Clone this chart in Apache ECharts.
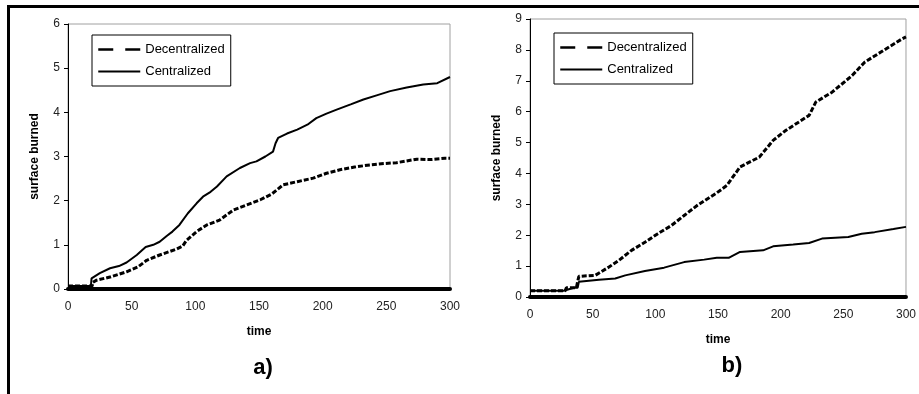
<!DOCTYPE html>
<html>
<head>
<meta charset="utf-8">
<script src="https://cdn.jsdelivr.net/npm/echarts@6/dist/echarts.min.js"></script>
<style>
  html, body { margin: 0; padding: 0; background: #fff; }
  #chart { width: 919px; height: 394px; }
</style>
</head>
<body>
<div id="chart"></div>
<script>
  // -------- data --------
  const X_TICKS = [0, 50, 100, 150, 200, 250, 300];

  // panel a)
  const aCentT = [0, 18, 18.5, 25, 33, 40, 46, 54, 61, 67, 72, 77.5, 82, 87.5, 94, 101, 106, 112, 117, 124.6, 135, 143, 148, 155, 161, 163, 165, 172, 180, 188, 195, 203, 211, 222, 232, 243, 253, 266, 279, 290, 300];
  const aCentV = [0.07, 0.07, 0.24, 0.36, 0.47, 0.52, 0.6, 0.77, 0.95, 1.0, 1.07, 1.2, 1.3, 1.45, 1.71, 1.94, 2.09, 2.2, 2.32, 2.55, 2.74, 2.85, 2.89, 3.0, 3.11, 3.3, 3.42, 3.52, 3.61, 3.72, 3.87, 3.97, 4.06, 4.18, 4.29, 4.39, 4.48, 4.56, 4.63, 4.66, 4.8];
  const aDecT = [0, 19, 19.5, 22.5, 33, 46, 55, 61.8, 72, 85, 90, 93, 101, 109, 119, 130, 140, 151, 160, 169, 180, 192.5, 203, 213.6, 225, 237, 248, 258, 274, 285, 296, 300];
  const aDecV = [0.07, 0.07, 0.15, 0.2, 0.27, 0.39, 0.5, 0.65, 0.77, 0.9, 0.97, 1.1, 1.3, 1.45, 1.56, 1.79, 1.9, 2.02, 2.15, 2.36, 2.43, 2.51, 2.62, 2.7, 2.76, 2.81, 2.84, 2.86, 2.94, 2.93, 2.96, 2.96];

  // panel b)
  const bCentT = [0, 27, 28, 35, 38, 39, 55, 68, 76, 91.7, 107, 123, 139, 149, 158.5, 167.6, 186, 194, 210, 222.7, 233, 254, 264.7, 275, 290, 300];
  const bCentV = [0.2, 0.2, 0.22, 0.3, 0.3, 0.49, 0.56, 0.6, 0.7, 0.84, 0.95, 1.13, 1.21, 1.27, 1.27, 1.46, 1.51, 1.64, 1.7, 1.75, 1.89, 1.94, 2.05, 2.1, 2.2, 2.27];
  const bDecT = [0, 28, 29, 37, 38, 39, 52, 63, 71, 81, 92, 102, 113, 123, 133.6, 149, 157, 167.6, 183, 194, 204, 222.7, 228, 241, 257, 267, 280, 297, 300];
  const bDecV = [0.2, 0.2, 0.3, 0.3, 0.5, 0.67, 0.7, 0.97, 1.19, 1.51, 1.78, 2.05, 2.32, 2.64, 2.97, 3.37, 3.61, 4.21, 4.53, 5.07, 5.39, 5.88, 6.31, 6.63, 7.17, 7.6, 7.93, 8.36, 8.42];

  const SERIES_NAMES = ['Decentralized', 'Centralized'];

  const pairs = (ts, vs) => ts.map((t, i) => [t, vs[i]]);

  const FONT = 'Arial, "Liberation Sans", sans-serif';
  const TXT = '#222';

  function xAxis(gridIndex) {
    return {
      gridIndex, type: 'value', min: 0, max: 300, interval: 50,
      name: 'time', nameLocation: 'middle', nameGap: 37,
      nameTextStyle: { fontFamily: FONT, fontWeight: 'bold', fontSize: 12, color: '#000' },
      axisLine: { lineStyle: { color: '#000', width: 4 } },
      axisTick: { show: false },
      axisLabel: { fontFamily: FONT, fontSize: 12, color: TXT, margin: 12 },
      splitLine: { show: false },
    };
  }

  function yAxis(gridIndex, max) {
    return {
      gridIndex, type: 'value', min: 0, max, interval: 1,
      name: 'surface burned', nameLocation: 'middle', nameGap: 27,
      nameTextStyle: { fontFamily: FONT, fontWeight: 'bold', fontSize: 12, color: '#000' },
      axisLine: { show: true, lineStyle: { color: '#000', width: 1 } },
      axisTick: { show: true, length: 4, lineStyle: { color: '#000' } },
      axisLabel: { fontFamily: FONT, fontSize: 12, color: TXT, margin: 8 },
      splitLine: { show: false },
    };
  }

  function legend(left, top) {
    return {
      data: [
        { name: SERIES_NAMES[0], lineStyle: { type: [15, 12], width: 2.5 } },
        { name: SERIES_NAMES[1], lineStyle: { type: 'solid', width: 2 } },
      ],
      orient: 'vertical', left, top,
      itemWidth: 42, itemHeight: 14, itemGap: 9,
      padding: [8, 6, 8, 5],
      borderColor: '#000', borderWidth: 1, backgroundColor: '#fff',
      itemStyle: { color: 'rgba(0,0,0,0)', borderColor: 'rgba(0,0,0,0)', borderWidth: 0 },
      textStyle: { fontFamily: FONT, fontSize: 13, color: '#000' },
      selectedMode: false,
    };
  }

  const decStyle = { color: '#000', width: 3, type: [5, 2] };
  const centStyle = { color: '#000', width: 2, type: 'solid' };

  const series = [
    { name: 'Decentralized', xAxisIndex: 0, yAxisIndex: 0, data: pairs(aDecT, aDecV), lineStyle: decStyle },
    { name: 'Centralized', xAxisIndex: 0, yAxisIndex: 0, data: pairs(aCentT, aCentV), lineStyle: centStyle },
    { name: 'Decentralized', xAxisIndex: 1, yAxisIndex: 1, data: pairs(bDecT, bDecV), lineStyle: decStyle },
    { name: 'Centralized', xAxisIndex: 1, yAxisIndex: 1, data: pairs(bCentT, bCentV), lineStyle: centStyle },
  ].map((s) => Object.assign({
    type: 'line', symbol: 'none', itemStyle: { color: '#000' }, animation: false,
  }, s));

  const chart = echarts.init(document.getElementById('chart'), null, { renderer: 'canvas' });
  chart.setOption({
    animation: false,
    backgroundColor: '#fff',
    title: [
      { text: 'a)', left: 258, top: 352, textAlign: 'center',
        textStyle: { fontFamily: FONT, fontSize: 22, fontWeight: 'bold', color: '#000' } },
      { text: 'b)', left: 727, top: 350, textAlign: 'center',
        textStyle: { fontFamily: FONT, fontSize: 22, fontWeight: 'bold', color: '#000' } },
    ],
    grid: [
      { left: 68, top: 24, right: 469, bottom: 105, show: true, borderColor: '#a0a0a0', borderWidth: 1, backgroundColor: 'transparent' },
      { left: 530, top: 19, right: 7, bottom: 97, show: true, borderColor: '#a0a0a0', borderWidth: 1, backgroundColor: 'transparent' },
    ],
    xAxis: [xAxis(0), xAxis(1)],
    yAxis: [yAxis(0, 6), yAxis(1, 9)],
    legend: [legend(92, 35), legend(554, 33)],
    series,
    graphic: [
      { type: 'rect', shape: { x: 7, y: 5, width: 912, height: 3 }, style: { fill: '#000' }, silent: true },
      { type: 'rect', shape: { x: 7, y: 5, width: 3, height: 389 }, style: { fill: '#000' }, silent: true },
    ],
  });
</script>
</body>
</html>
